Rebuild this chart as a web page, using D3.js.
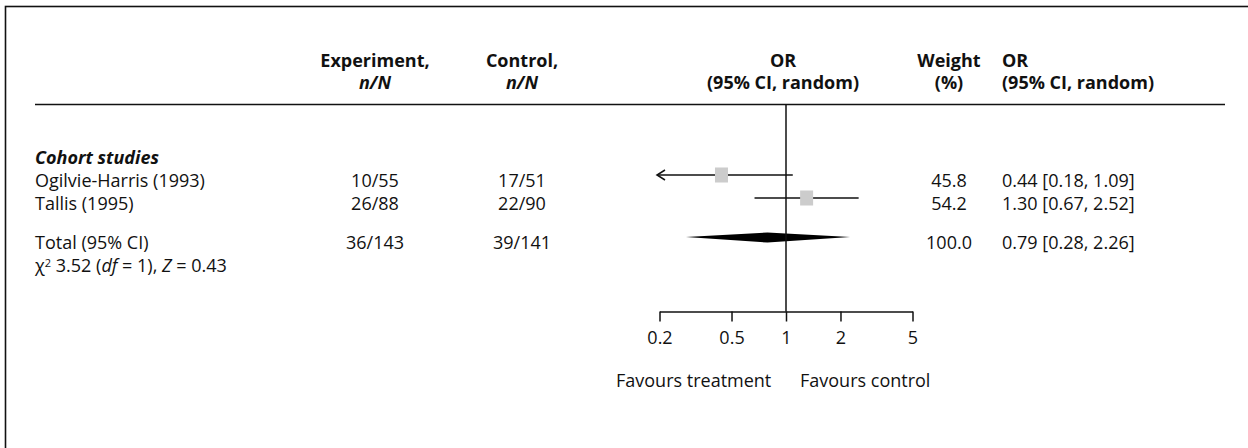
<!DOCTYPE html>
<html>
<head>
<meta charset="utf-8">
<script src="https://cdn.jsdelivr.net/npm/d3@7"></script>
<style>
  html, body { margin: 0; padding: 0; background: #fff; }
  svg { display: block; }
  text { font-family: "Open Sans", Lato, sans-serif; font-size: 18px; fill: #111; }
</style>
</head>
<body>
<svg id="chart" width="1248" height="448"></svg>
<script>
// ---- data ----
const groupLabel = "Cohort studies";
const studies = ["Ogilvie-Harris (1993)", "Tallis (1995)"];
const expCounts = ["10/55", "26/88"];
const ctrlCounts = ["17/51", "22/90"];
const weights = ["45.8", "54.2"];
const orValues = [0.44, 1.30];
const ciLower = [0.18, 0.67];
const ciUpper = [1.09, 2.52];
const totalLabel = "Total (95% CI)";
const totalExp = "36/143";
const totalCtrl = "39/141";
const totalWeight = "100.0";
const totalOR = [0.79, 0.28, 2.26]; // estimate, lower, upper
const tickValues = [0.2, 0.5, 1, 2, 5];
const tickLabels = ["0.2", "0.5", "1", "2", "5"];
const favourLabels = ["Favours treatment", "Favours control"];

const svg = d3.select("#chart");
const fmt = d3.format(".2f");

// frame
svg.append("rect").attr("x", 5.5).attr("y", 6.5).attr("width", 1400).attr("height", 600)
  .attr("fill", "none").attr("stroke", "#111").attr("stroke-width", 1.6);

// column positions
const col = { label: 35, exp: 375, ctrl: 522, or: 783, weight: 949, ortext: 1002 };

// header
const head = svg.append("g").style("font-weight", "bold");
function headText(x, y, anchor, txt, italic) {
  const t = head.append("text").attr("x", x).attr("y", y).attr("text-anchor", anchor).text(txt);
  if (italic) t.style("font-style", "italic");
  return t;
}
const h1 = 67, h2 = 89;
headText(col.exp, h1, "middle", "Experiment,");
headText(col.exp, h2, "middle", "n/N", true);
headText(col.ctrl, h1, "middle", "Control,");
headText(col.ctrl, h2, "middle", "n/N", true);
headText(col.or, h1, "middle", "OR");
headText(col.or, h2, "middle", "(95% CI, random)");
headText(col.weight, h1, "middle", "Weight");
headText(col.weight, h2, "middle", "(%)");
headText(col.ortext, h1, "start", "OR");
headText(col.ortext, h2, "start", "(95% CI, random)");

svg.append("line").attr("x1", 35).attr("x2", 1225).attr("y1", 104.5).attr("y2", 104.5)
  .attr("stroke", "#111").attr("stroke-width", 1.6);

// scales
const x = d3.scaleLog().domain([0.2, 5]).range([659.5, 912.5]);
const rowY = d3.scalePoint().domain(studies).range([187, 210]); // text baselines
const markOffset = -12;
const totalY = 248.5;

// group label
svg.append("text").attr("x", col.label).attr("y", 163.5)
  .style("font-weight", "bold").style("font-style", "italic").text(groupLabel);

// rows
studies.forEach((s, i) => {
  const y = rowY(s);
  svg.append("text").attr("x", col.label).attr("y", y).text(s);
  svg.append("text").attr("x", col.exp).attr("y", y).attr("text-anchor", "middle").text(expCounts[i]);
  svg.append("text").attr("x", col.ctrl).attr("y", y).attr("text-anchor", "middle").text(ctrlCounts[i]);
  svg.append("text").attr("x", col.weight).attr("y", y).attr("text-anchor", "middle").text(weights[i]);
  svg.append("text").attr("x", col.ortext).attr("y", y)
    .text(`${fmt(orValues[i])} [${fmt(ciLower[i])}, ${fmt(ciUpper[i])}]`);

  const my = y + markOffset;
  const [d0, d1] = x.domain();
  const lo = Math.max(ciLower[i], d0), hi = Math.min(ciUpper[i], d1);
  const x0 = x(lo) - (ciLower[i] < d0 ? 2.5 : 0);
  svg.append("line").attr("x1", x0).attr("x2", x(hi)).attr("y1", my).attr("y2", my)
    .attr("stroke", "#111").attr("stroke-width", 1.5);
  if (ciLower[i] < d0) {
    svg.append("path")
      .attr("d", `M${x0 + 8},${my - 5} L${x0},${my} L${x0 + 8},${my + 5}`)
      .attr("fill", "none").attr("stroke", "#111").attr("stroke-width", 1.5);
  }
  svg.append("rect").attr("x", x(orValues[i]) - 6.5).attr("y", my - 7.5)
    .attr("width", 13).attr("height", 15).attr("fill", "#cccccc");
});

// total row
svg.append("text").attr("x", col.label).attr("y", totalY).text(totalLabel);
svg.append("text").attr("x", col.exp).attr("y", totalY).attr("text-anchor", "middle").text(totalExp);
svg.append("text").attr("x", col.ctrl).attr("y", totalY).attr("text-anchor", "middle").text(totalCtrl);
svg.append("text").attr("x", col.weight).attr("y", totalY).attr("text-anchor", "middle").text(totalWeight);
svg.append("text").attr("x", col.ortext).attr("y", totalY)
  .text(`${fmt(totalOR[0])} [${fmt(totalOR[1])}, ${fmt(totalOR[2])}]`);
const dy = totalY - 11.5;
svg.append("path")
  .attr("d", `M${x(totalOR[1])},${dy} L${x(totalOR[0])},${dy - 4.5} L${x(totalOR[2])},${dy} L${x(totalOR[0])},${dy + 5.5} Z`)
  .attr("fill", "#000");

// heterogeneity line
const het = svg.append("text").attr("x", col.label).attr("y", 272);
het.append("tspan").text("χ");
het.append("tspan").attr("dy", -5.5).style("font-size", "11px").text("2");
het.append("tspan").attr("dy", 5.5).text(" 3.52 (");
het.append("tspan").style("font-style", "italic").text("df");
het.append("tspan").text(" = 1), ");
het.append("tspan").style("font-style", "italic").text("Z");
het.append("tspan").text(" = 0.43");

// vertical line of no effect
const axisY = 311.5;
svg.append("line").attr("x1", x(1)).attr("x2", x(1)).attr("y1", 104.5).attr("y2", axisY)
  .attr("stroke", "#111").attr("stroke-width", 1.5);

// axis
const axis = d3.axisBottom(x).tickValues(tickValues)
  .tickFormat((d, i) => tickLabels[i]).tickSizeInner(10).tickSizeOuter(0).tickPadding(8);
const ag = svg.append("g").attr("transform", `translate(0,${axisY})`).call(axis);
ag.select(".domain").attr("stroke", "#111").attr("stroke-width", 1.5);
ag.selectAll(".tick line").attr("stroke", "#111").attr("stroke-width", 1.5);
ag.selectAll(".tick text").attr("font-family", null).attr("font-size", null)
  .style("font-size", "18px").attr("fill", "#111").attr("y", 32.5).attr("dy", 0);

// favours labels
svg.append("text").attr("x", 616).attr("y", 387).text(favourLabels[0]);
svg.append("text").attr("x", 800).attr("y", 387).text(favourLabels[1]);
</script>
</body>
</html>
